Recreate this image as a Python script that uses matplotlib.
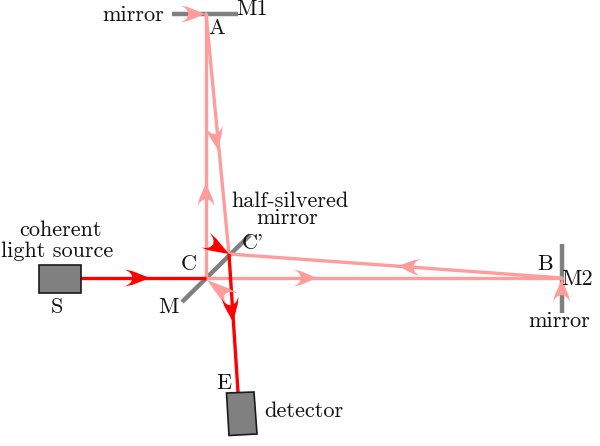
import numpy as np
import matplotlib
matplotlib.use("Agg")
import matplotlib.pyplot as plt
from matplotlib.patches import Polygon, PathPatch
from matplotlib.path import Path

W, H = 600, 446
GRAY = "#808080"
PINK = "#ff9c9c"
RED = "#ff0000"
INK = "#111111"

mirrors = [((172, 14), (238, 14)), ((182, 302), (250, 235)), ((562, 244), (562, 313))]
pink_beams = [((206, 278), (206, 14)), ((206, 14), (229, 254)),
              ((229, 254), (562, 278)), ((206, 278), (562, 278))]
red_beams = [((80, 278), (206, 278)), ((229, 254), (238, 392))]
boxes = [[(39, 265), (81, 265), (81, 292.5), (39, 292.5)],
         [(226.5, 393), (254, 392), (257, 434), (229, 435.5)]]
# (tail, tip, colour)
heads = [((180, 14), (205, 14), PINK), ((206, 207), (206, 183), PINK),
         ((214, 126), (218, 150), PINK), ((421, 267.5), (398, 266), PINK),
         ((293, 278), (317, 278), PINK), ((561.5, 303), (562, 279), PINK),
         ((234, 301), (207, 280), PINK), ((124, 278), (150, 278), RED),
         ((205, 240), (229, 254), RED), ((230, 297), (233, 322), RED)]
labels = [("mirror", 133, 15), ("M1", 252, 9.5), ("A", 217, 28),
          ("half-silvered", 290, 201), ("mirror", 287, 218), ("C'", 253, 243),
          ("C", 189, 264), ("M", 168, 307), ("coherent", 60, 230),
          ("light source", 57, 251), ("S", 57, 307), ("E", 224, 383),
          ("detector", 304, 411), ("B", 545, 264), ("M2", 577, 279),
          ("mirror", 559, 321)]

plt.rcParams["font.family"] = ["cmr10", "DejaVu Serif"]
plt.rcParams["axes.unicode_minus"] = False
fig = plt.figure(figsize=(W / 100, H / 100), dpi=100)
ax = fig.add_axes([0, 0, 1, 1])
ax.set_xlim(0, W)
ax.set_ylim(H, 0)
ax.axis("off")


def head(tail, tip, colour):
    t, p = np.array(tail, float), np.array(tip, float)
    d = p - t
    n = np.array([-d[1], d[0]]) / np.hypot(*d)
    b1, b2 = t + n * 8.5, t - n * 8.5
    s1, s2 = t + d * 0.38 + n * 6.3, t + d * 0.38 - n * 6.3
    notch = t + d * 0.33
    verts = [p, s1, t + d * 0.3 + n * 7.3, b1, t + d * 0.3 + n * 6.2, notch,
             t + d * 0.3 - n * 6.2, b2, t + d * 0.3 - n * 7.3, s2, p, p]
    codes = [Path.MOVETO, Path.LINETO, Path.CURVE3, Path.CURVE3, Path.CURVE3, Path.CURVE3,
             Path.CURVE3, Path.CURVE3, Path.CURVE3, Path.CURVE3, Path.LINETO, Path.CLOSEPOLY]
    ax.add_patch(PathPatch(Path([tuple(v) for v in verts], codes), fc=colour, ec="none", zorder=5))


for a, b in mirrors:
    ax.plot(*zip(a, b), color=GRAY, lw=3.2, solid_capstyle="butt", zorder=1)
for a, b in pink_beams:
    ax.plot(*zip(a, b), color=PINK, lw=2.4, solid_capstyle="round", zorder=2)
for a, b in red_beams:
    ax.plot(*zip(a, b), color=RED, lw=2.4, solid_capstyle="butt", zorder=3)
for corners in boxes:
    ax.add_patch(Polygon(corners, closed=True, fc=GRAY, ec="#1a1a1a", lw=1.2, zorder=4))
for tail, tip, colour in heads:
    head(tail, tip, colour)
for s, x, y in labels:
    ax.text(x, y, s, ha="center", va="center", fontsize=16, color=INK, zorder=6)

fig.savefig("out.png", dpi=100)
